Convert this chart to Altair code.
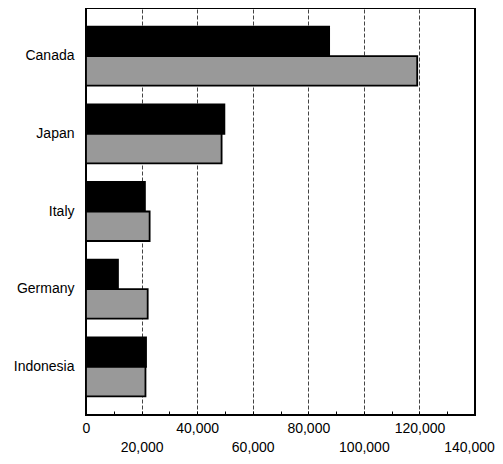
import altair as alt
import pandas as pd

countries = ["Canada", "Japan", "Italy", "Germany", "Indonesia"]
series_names = ["Series 1", "Series 2"]
series1 = [87500, 49800, 21200, 11500, 21600]
series2 = [119200, 48800, 22900, 22200, 21400]
x_ticks = [0, 10000, 20000, 30000, 40000, 50000, 60000, 70000,
           80000, 90000, 100000, 110000, 120000, 130000, 140000]

rows = []
for c, a, b in zip(countries, series1, series2):
    rows.append({"country": c, "series": series_names[0], "value": a})
    rows.append({"country": c, "series": series_names[1], "value": b})
df = pd.DataFrame(rows)

FONT = "Liberation Sans"

label_expr = ("datum.value % 40000 === 0 ? [datum.label, ''] : "
              "(datum.value % 20000 === 0 ? ['', datum.label] : '')")

chart = alt.Chart(df).mark_bar(stroke="black", strokeWidth=1.8).encode(
    x=alt.X(
        "value:Q",
        scale=alt.Scale(domain=[0, 140000], nice=False, zero=True),
        axis=alt.Axis(
            values=x_ticks, title=None, format=",d",
            grid=True, gridColor="#444444", gridDash=[4, 2], gridWidth=1,
            gridOpacity={"condition": {"test": "datum.value % 20000 === 0 && datum.value > 0 && datum.value < 140000", "value": 1}, "value": 0},
            ticks=True, tickSize=alt.ExprRef("-4"), tickColor="black", tickWidth=1,
            labelExpr=label_expr, labelOverlap=False, labelFlush=False,
            labelOffset={"condition": {"test": "datum.value === 140000", "value": -6}, "value": 0},
            labelFont=FONT, labelFontSize=14, labelColor="black", labelPadding=10,
            labelLineHeight=19, labelBaseline="top", domain=False,
        ),
    ),
    y=alt.Y(
        "country:N", sort=countries,
        scale=alt.Scale(paddingInner=0.24, paddingOuter=0.24),
        axis=alt.Axis(title=None, ticks=False, domain=False, labelPadding=12,
                      labelFont=FONT, labelFontSize=14, labelColor="black"),
    ),
    yOffset=alt.YOffset("series:N", sort=series_names,
                        scale=alt.Scale(paddingInner=0, paddingOuter=0)),
    color=alt.Color("series:N",
                    scale=alt.Scale(domain=series_names, range=["#000000", "#999999"]),
                    legend=None),
).properties(
    width=389, height=407,
    autosize=alt.AutoSizeParams(type="none"),
    padding={"left": 78, "top": 0, "right": 20, "bottom": 41},
).configure(
    font=FONT
).configure_view(
    stroke="black", strokeWidth=2
)

chart.save("out.html", embed_options={"renderer": "svg", "actions": False})
